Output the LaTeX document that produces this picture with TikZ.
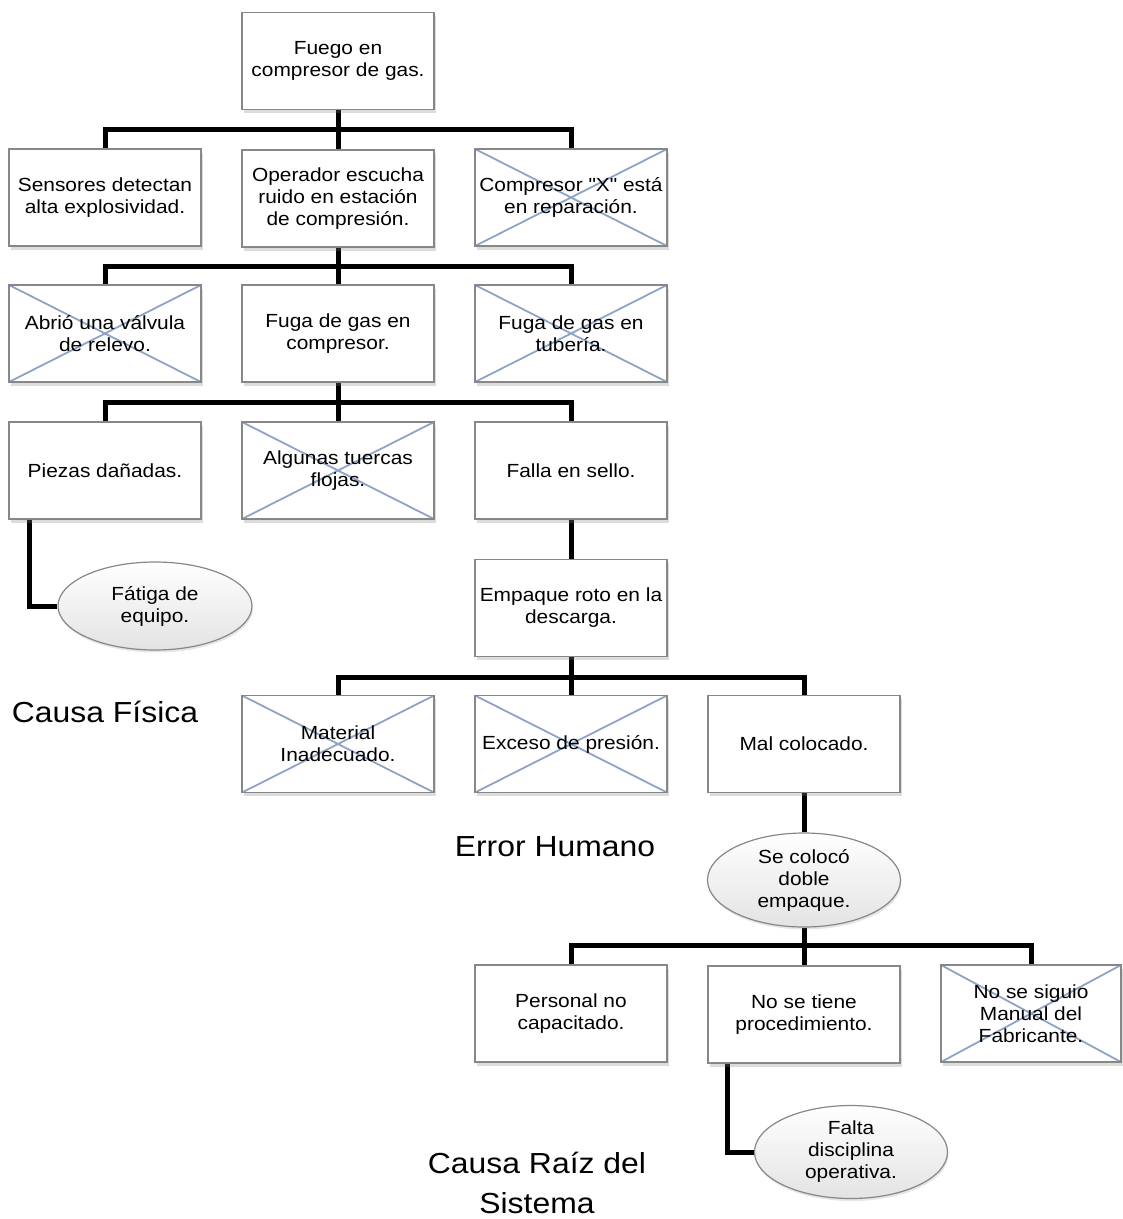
\documentclass[tikz,border=0pt]{standalone}
\usepackage{fontspec}
\setmainfont{Liberation Sans}[FakeStretch=1.1, Ligatures=TeXOff]
\usetikzlibrary{shapes.geometric,shadows,calc,backgrounds}
\definecolor{crossblue}{RGB}{143,163,198}
\definecolor{boxline}{RGB}{135,135,135}
\tikzset{
  every node/.style={font=\fontsize{19}{22}\selectfont, align=center},
  card/.style={rectangle, draw=boxline, line width=1.2pt, fill=white,
    minimum width=192pt, minimum height=97pt, inner sep=0pt,
    drop shadow={shadow xshift=1.5pt, shadow yshift=-3.5pt, opacity=0.28}},
  crossed/.style={card, path picture={
    \draw[crossblue, line width=1.8pt]
      (path picture bounding box.north west) -- (path picture bounding box.south east)
      (path picture bounding box.south west) -- (path picture bounding box.north east);}},
  oval/.style={ellipse, draw=boxline, line width=1.2pt, inner sep=0pt,
    top color=white, bottom color=black!11,
    drop shadow={shadow xshift=1pt, shadow yshift=-2.5pt, opacity=0.2}},
  conn/.style={line width=5pt, black},
  biglabel/.style={font=\fontsize{29}{40}\selectfont}
}
\begin{document}
\begin{tikzpicture}[x=1pt, y=-1pt]
\useasboundingbox (0,0) rectangle (1123,1219);

% level 0
\node[card] (fuego) at (338,61) {Fuego en\\compresor de gas.};
% level 1
\node[card] (sensores) at (105,197.5) {Sensores detectan\\alta explosividad.};
\node[card] (operador) at (338,198.5) {Operador escucha\\ruido en estación\\de compresión.};
\node[crossed] (reparacion) at (571,197.5) {Compresor "X" está\\en reparación.};
% level 2
\node[crossed] (valvula) at (105,333.5) {Abrió una válvula\\de relevo.};
\node[card] (fugacomp) at (338,333.5) {Fuga de gas en\\compresor.};
\node[crossed] (fugatub) at (571,333.5) {Fuga de gas en\\tubería.};
% level 3
\node[card] (piezas) at (105,470.5) {Piezas dañadas.};
\node[crossed] (tuercas) at (338,470.5) {Algunas tuercas\\flojas.};
\node[card] (sello) at (571,470.5) {Falla en sello.};
\node[oval, minimum width=194pt, minimum height=88pt] (fatiga) at (155,606) {Fátiga de\\equipo.};
% level 4
\node[card] (empaque) at (571,608) {Empaque roto en la\\descarga.};
% level 5
\node[crossed] (material) at (338,744) {Material\\Inadecuado.};
\node[crossed] (presion) at (571,744) {Exceso de presión.};
\node[card] (malcol) at (804,744) {Mal colocado.};
\node[oval, minimum width=193pt, minimum height=94pt] (doble) at (804,880) {Se colocó\\doble\\empaque.};
% level 6
\node[card] (personal) at (571,1013.5) {Personal no\\capacitado.};
\node[card] (procedimiento) at (804,1014.5) {No se tiene\\procedimiento.};
\node[crossed, minimum width=180pt] (manual) at (1031,1013.5) {No se siguio\\Manual del\\Fabricante.};
\node[oval, minimum width=193pt, minimum height=93pt] (disciplina) at (851,1152) {Falta\\disciplina\\operativa.};

% section captions
\node[biglabel] (fisica) at (105,712) {Causa Física};
\node[biglabel] (humano) at (555,847) {Error Humano};
\node[biglabel] (raiz) at (537,1183) {Causa Raíz del\\Sistema};

% connectors
\begin{pgfonlayer}{background}
\foreach \c in {sensores,operador,reparacion}
  \draw[conn] (fuego.south) -- ++(0,19.5) -| (\c.north);
\foreach \c in {valvula,fugacomp,fugatub}
  \draw[conn] (operador.south) -- ++(0,18.5) -| (\c.north);
\foreach \c in {piezas,tuercas,sello}
  \draw[conn] (fugacomp.south) -- ++(0,20) -| (\c.north);
\draw[conn] ($(piezas.south west)+(21,0)$) |- (fatiga.west);
\draw[conn] (sello.south) -- (empaque.north);
\foreach \c in {material,presion,malcol}
  \draw[conn] (empaque.south) -- ++(0,20) -| (\c.north);
\draw[conn] (malcol.south) -- (doble.north);
\foreach \c in {personal,procedimiento,manual}
  \draw[conn] (doble.south) -- ++(0,18) -| (\c.north);
\draw[conn] ($(procedimiento.south west)+(20,0)$) |- (disciplina.west);
\end{pgfonlayer}
\end{tikzpicture}
\end{document}
